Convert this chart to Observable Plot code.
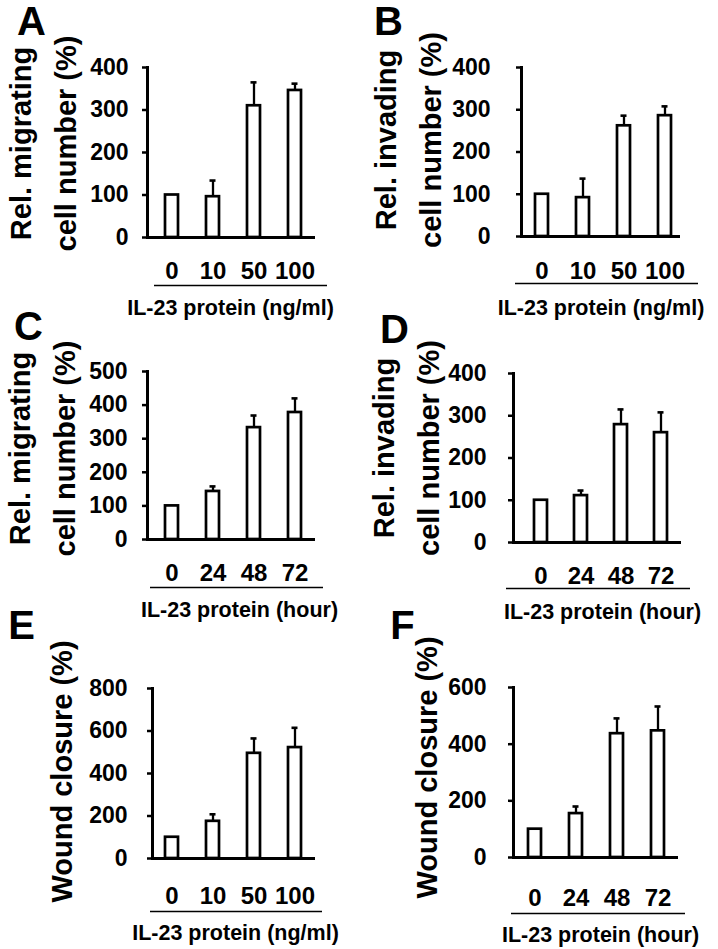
<!DOCTYPE html>
<html>
<head>
<meta charset="utf-8">
<script src="https://cdn.jsdelivr.net/npm/d3@7"></script>
<script src="https://cdn.jsdelivr.net/npm/@observablehq/plot@0.6"></script>
<style>
  html, body { margin: 0; padding: 0; background: #fff; }
  #wrap { position: relative; width: 718px; height: 949px; overflow: hidden; background: #fff; }
  #wrap svg { position: absolute; }
</style>
</head>
<body>
<div id="wrap"></div>
<script>
// ---------- data ----------
const doseCats = ["0", "10", "50", "100"];
const hourCats = ["0", "24", "48", "72"];

const aValues = [100, 96, 310, 346];
const aErrTop = [null, 134, 365, 362];
const bValues = [100, 92, 262, 286];
const bErrTop = [null, 137, 286, 308];
const cValues = [100, 143, 333, 378];
const cErrTop = [null, 158, 369, 420];
const dValues = [100, 111, 279, 260];
const dErrTop = [null, 123, 315, 308];
const eValues = [100, 175, 495, 522];
const eErrTop = [null, 208, 565, 615];
const fValues = [100, 155, 437, 447];
const fErrTop = [null, 180, 491, 533];

const ticks400 = [0, 100, 200, 300, 400];
const ticks500 = [0, 100, 200, 300, 400, 500];
const ticks800 = [0, 200, 400, 600, 800];
const ticks600 = [0, 200, 400, 600];

const doseTitle = "IL-23 protein (ng/ml)";
const hourTitle = "IL-23 protein (hour)";
const migratingTitle = "Rel. migrating\ncell number (%)";
const invadingTitle = "Rel. invading\ncell number (%)";
const woundTitle = "Wound closure (%)";
const letters = ["A", "B", "C", "D", "E", "F"];

// ---------- layout (pixels only) ----------
const FONT = "'Liberation Sans', Arial, Helvetica, sans-serif";
const panels = [
  {letter: letters[0], cats: doseCats, values: aValues, err: aErrTop, ticks: ticks400, xTitle: doseTitle, yTitle: migratingTitle,
   left: 0, top: 0, w: 359, h: 316, mL: 147, mR: 44, mT: 67, mB: 79, c0: 171, c3: 295,
   ytp: 14, xtp: 24, ulDy: 48, ulL: 7, ulR: -12, xtDx: -1, xtDy: 71, ytDx: -108, ytDy: -9, lDx: -116, lDy: -45},
  {letter: letters[1], cats: doseCats, values: bValues, err: bErrTop, ticks: ticks400, xTitle: doseTitle, yTitle: invadingTitle,
   left: 359, top: 0, w: 359, h: 316, mL: 162, mR: 38, mT: 67, mB: 80, c0: 181, c3: 306,
   ytp: 26, xtp: 25, ulDy: 47, ulL: -6, ulR: -18, xtDx: 0, xtDy: 72, ytDx: -117, ytDy: -12, lDx: -133, lDy: -45},
  {letter: letters[2], cats: hourCats, values: cValues, err: cErrTop, ticks: ticks500, xTitle: hourTitle, yTitle: migratingTitle,
   left: 0, top: 316, w: 359, h: 316, mL: 147, mR: 44, mT: 55, mB: 93, c0: 171, c3: 294,
   ytp: 15, xtp: 24, ulDy: 48, ulL: 3, ulR: -8, xtDx: 8, xtDy: 71, ytDx: -109, ytDy: -7, lDx: -119, lDy: -44},
  {letter: letters[3], cats: hourCats, values: dValues, err: dErrTop, ticks: ticks400, xTitle: hourTitle, yTitle: invadingTitle,
   left: 359, top: 316, w: 359, h: 316, mL: 154, mR: 37, mT: 57, mB: 90, c0: 180, c3: 302,
   ytp: 22, xtp: 24, ulDy: 46, ulL: -7, ulR: -9, xtDx: 5, xtDy: 70, ytDx: -111, ytDy: -10, lDx: -119, lDy: -43},
  {letter: letters[4], cats: doseCats, values: eValues, err: eErrTop, ticks: ticks800, xTitle: doseTitle, yTitle: woundTitle,
   left: 0, top: 632, w: 359, h: 317, mL: 152, mR: 44, mT: 56, mB: 91, c0: 171, c3: 295,
   ytp: 20, xtp: 28, ulDy: 53, ulL: -2, ulR: -7, xtDx: 1.5, xtDy: 75, ytDx: -95, ytDy: -2, lDx: -131, lDy: -62},
  {letter: letters[5], cats: hourCats, values: fValues, err: fErrTop, ticks: ticks600, xTitle: hourTitle, yTitle: woundTitle,
   left: 359, top: 632, w: 359, h: 317, mL: 154, mR: 40, mT: 55, mB: 92, c0: 175, c3: 299,
   ytp: 22, xtp: 31, ulDy: 56, ulL: -2, ulR: -7, xtDx: 4.5, xtDy: 78, ytDx: -91, ytDy: -5, lDx: -111, lDy: -61}
];

const BAR_W = 13;      // geometric bar width (stroke excluded)
const wrap = document.getElementById("wrap");

for (const p of panels) {
  const rows = p.cats.map((c, i) => ({cat: c, value: p.values[i], err: p.err[i]}));
  const errRows = rows.filter(d => d.err != null);
  const step = (p.c3 - p.c0) / 3;
  const yMax = p.ticks[p.ticks.length - 1];

  const chart = Plot.plot({
    width: p.w,
    height: p.h,
    marginLeft: p.mL,
    marginRight: p.mR,
    marginTop: p.mT,
    marginBottom: p.mB,
    style: {fontFamily: FONT, fontWeight: "bold", color: "#000", background: "transparent", overflow: "visible"},
    x: {domain: p.cats, range: [p.c0 - BAR_W / 2, p.c3 + BAR_W / 2], paddingInner: 1 - BAR_W / step, paddingOuter: 0, align: 0.5, axis: null},
    y: {domain: [0, yMax], axis: null},
    marks: [
      Plot.barY(rows, {x: "cat", y: "value", fill: "white", stroke: "black", strokeWidth: 2.7}),
      Plot.ruleX(errRows, {x: "cat", y1: "value", y2: "err", stroke: "black", strokeWidth: 2.3}),
      Plot.tickY(errRows, {x: "cat", y: "err", stroke: "black", strokeWidth: 2.6, insetLeft: 3.5, insetRight: 3.5}),
      Plot.ruleY([0], {stroke: "black", strokeWidth: 3}),
      Plot.frame({anchor: "left", stroke: "black", strokeWidth: 3}),
      Plot.axisY({ticks: p.ticks, tickSize: 5, tickPadding: p.ytp, fontSize: 23, fontWeight: "bold", strokeWidth: 2.5, label: null}),
      Plot.axisX({tickSize: 0, tickPadding: p.xtp, fontSize: 24, fontWeight: "bold", label: null}),
      Plot.ruleY([0], {dy: p.ulDy, insetLeft: p.ulL, insetRight: p.ulR, stroke: "black", strokeWidth: 1.5}),
      Plot.text([p.xTitle], {text: d => d, frameAnchor: "bottom", dx: p.xtDx, dy: p.xtDy, textAnchor: "middle", lineAnchor: "middle", fontSize: 21.5, fontWeight: "bold", fill: "black"}),
      Plot.text([p.yTitle], {text: d => d, frameAnchor: "left", rotate: -90, dx: p.ytDx, dy: p.ytDy, textAnchor: "middle", lineAnchor: "middle", lineHeight: 1.55, fontSize: 29, fontWeight: "bold", fill: "black"}),
      Plot.text([p.letter], {text: d => d, frameAnchor: "top-left", dx: p.lDx, dy: p.lDy, textAnchor: "middle", lineAnchor: "middle", fontSize: 40, fontWeight: "bold", fill: "black"})
    ]
  });
  chart.style.left = p.left + "px";
  chart.style.top = p.top + "px";
  wrap.appendChild(chart);
}
</script>
</body>
</html>
